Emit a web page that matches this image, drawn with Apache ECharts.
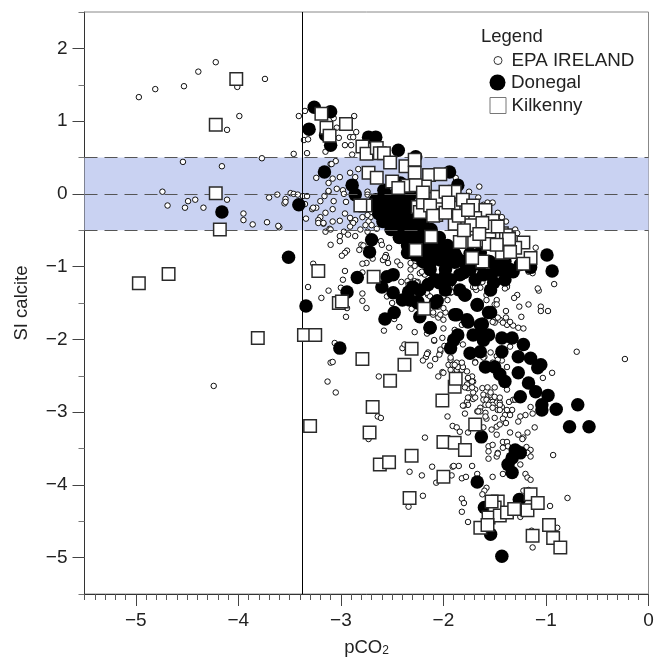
<!DOCTYPE html>
<html><head><meta charset="utf-8">
<script src="https://cdn.jsdelivr.net/npm/echarts@6/dist/echarts.min.js"></script>
<style>html,body{margin:0;padding:0;background:#fff}#c{width:654px;height:657px}</style>
</head><body><div id="c"></div>
<script>
const xTicks=[-5,-4,-3,-2,-1,0];
const yTicks=[2,1,0,-1,-2,-3,-4,-5];
const bandLines=[0.5,0,-0.5];
const refPco2=-3.38;
const epa=[[-4.97,1.33],[-4.81,1.44],[-4.53,1.48],[-4.39,1.68],[-4.22,1.81],[-4.01,1.47],[-3.74,1.58],[-3.99,1.07],[-4.11,0.88],[-4.54,0.44],[-4.16,0.38],[-3.77,0.49],[-3.46,0.55],[-3.41,1.07],[-3.35,1.14],[-3.36,0.74],[-3.32,0.75],[-3.33,0.56],[-3.15,0.58],[-3.24,0.22],[-4.74,0.03],[-4.69,-0.16],[-4.52,-0.19],[-4.49,-0.10],[-4.42,-0.08],[-4.34,-0.19],[-4.11,-0.08],[-3.95,-0.27],[-3.95,-0.36],[-3.86,-0.42],[-3.72,-0.39],[-3.70,-0.05],[-3.62,-0.01],[-3.60,-0.46],[-3.61,-0.44],[-3.54,-0.07],[-3.55,-0.13],[-3.54,-0.11],[-3.49,0.01],[-3.46,0],[-3.42,-0.01],[-3.37,-0.03],[-3.33,-0.03],[-3.35,-0.14],[-3.34,-0.34],[-3.28,-0.21],[-3.24,-0.19],[-3.20,-0.10],[-3.16,-0.03],[-3.12,0.03],[-3.15,-0.26],[-3.20,-0.32],[-3.22,-0.36],[-3.17,-0.41],[-3.15,-0.52],[-3.11,-0.48],[-3.10,-0.70],[-3.12,0.15],[-3.10,0.41],[-3.27,-0.96],[-3.32,-1.28],[-3.19,-1.43],[-3.12,-1.33],[-4.24,-2.64],[-3.13,-2.58],[-3.10,-2.32],
[-3.07,1.04],[-2.87,1.07],[-3.04,0.91],[-2.85,0.85],[-2.91,0.78],[-2.88,0.78],[-3.02,0.77],[-2.96,0.67],[-2.90,0.67],[-2.89,0.54],[-3.05,0.45],[-3.09,0.41],[-3.01,0.23],[-3.08,0.21],[-2.91,0.29],[-2.86,0.23],[-2.83,0.34],[-3.12,0.04],[-2.98,0.05],[-3.04,0.07],[-2.97,0],[-2.95,-0.11],[-3.07,-0.10],[-3.08,-0.21],[-3.27,-0.19],[-2.96,-0.27],[-3.01,-0.37],[-3.08,-0.38],[-2.89,-0.37],[-2.86,-0.36],[-2.74,0.03],[-2.74,-0.01],[-2.70,-0.04],[-2.71,-0.25],[-2.71,-0.32],[-2.74,-0.29],[-2.79,-0.32],[-2.73,-0.38],[-2.91,-0.33],[-2.88,-0.40],
[-3.22,-0.40],[-3.17,-0.40],[-3.10,-0.49],[-2.97,-0.52],[-3.01,-0.58],[-3.01,-0.65],[-2.93,-0.56],[-2.86,-0.58],[-2.91,-0.45],[-2.81,-0.49],[-2.76,-0.43],[-2.70,-0.43],[-2.74,-0.52],[-2.65,-0.48],[-2.80,-0.70],[-2.82,-0.77],[-2.78,-0.71],[-2.61,-0.65],[-2.60,-0.70],[-2.53,-0.74],[-2.94,-0.78],[-2.96,-0.81],[-2.99,-0.85],[-2.56,-0.84],[-2.59,-0.91],[-2.54,-0.95],[-2.55,-0.88],[-2.45,-0.93],[-2.42,-0.98],[-2.69,-0.89],[-2.75,-0.95],[-2.79,-0.96],[-2.96,-1.06],[-2.79,-1.08],[-2.98,-1.18],[-3.00,-1.29],[-2.79,-1.37],[-2.79,-1.47],[-2.75,-1.57],[-2.94,-1.57],[-2.95,-1.69],[-2.58,-1.88],[-2.43,-1.83],[-2.28,-1.90],[-2.16,-1.92],[-3.06,-2.05],[-2.40,-2.12],[-2.38,-2.07],[-2.31,-1.58],[-2.50,-1.50],[-2.48,-1.72],[-2.55,-1.41],[-2.41,-1.21],[-2.35,-1.20],[-2.28,-1.20],[-2.25,-1.21],[-2.16,-1.20],[-2.17,-1.31],[-2.15,-1.39],[-2.28,-0.93],[-2.28,-0.99],[-2.32,-1.04],[-2.23,-1.09],[-2.19,-1.10],[-2.15,-1.04],[-2.42,-0.54],[-2.40,-0.60],[-2.37,-0.63],
[-2.15,-2.18],[-2.17,-2.24],[-2.20,-2.29],[-2.08,-2.27],[-2.03,-2.17],[-2.04,-2.21],[-2.13,-2.36],[-1.99,-2.09],[-1.93,-2.28],[-1.95,-2.35],[-1.91,-2.35],[-1.87,-2.32],[-1.82,-2.35],[-1.93,-2.42],[-1.87,-2.42],[-1.82,-2.42],[-1.77,-2.44],[-2.01,-2.45],[-2.05,-2.51],[-1.72,-2.51],[-1.76,-2.54],[-1.69,-2.31],[-1.54,-2.18],[-1.48,-2.23],[-1.35,-2.10],[-1.43,-2.29],[-1.76,-2.67],[-1.69,-2.69],[-1.62,-2.67],[-1.71,-2.73],[-1.74,-2.80],[-1.71,-2.82],[-1.77,-2.86],[-1.76,-2.90],[-1.80,-2.91],[-1.61,-2.76],[-1.56,-2.77],[-1.53,-2.79],[-1.61,-2.83],[-1.58,-2.83],[-1.54,-2.86],[-1.52,-2.86],[-1.48,-2.87],[-1.45,-2.87],[-1.59,-2.90],[-1.52,-2.90],[-1.43,-2.93],[-1.67,-2.99],[-1.64,-2.94],[-1.79,-3.02],[-1.59,-3.01],[-1.47,-2.97],[-1.36,-2.86],[-1.32,-2.83],[-1.15,-2.93],[-1.13,-3.02],[-1.20,-3.04],[-1.25,-3.06],[-1.27,-3.13],[-1.33,-2.97],[-1.37,-3.01],[-1.40,-3.04],[-1.42,-3.09],[-1.35,-3.04],[-1.39,-3.15],[-1.50,-3.08],[-1.58,-3.09],[-1.96,-3.06],[-1.91,-3.19],[-1.87,-3.21],[-1.84,-3.27],[-1.76,-3.28],[-1.61,-3.21],[-1.48,-3.20],[-1.45,-3.17],[-1.53,-3.24],[-1.48,-3.31],[-1.35,-3.28],[-1.27,-3.31],[-1.18,-3.28],[-1.22,-3.35],[-1.11,-3.21],[-2.18,-3.35],[-1.42,-3.41],[-1.38,-3.41],[-1.37,-3.47],[-1.56,-3.47],[-1.52,-3.45],[-1.56,-3.54],[-1.42,-3.49],[-1.47,-3.56],[-1.56,-3.64],[-1.48,-3.61],[-1.19,-3.48],[-1.15,-3.52],[-1.18,-3.56],[-1.15,-3.61],[-1.25,-3.72],[-1.72,-3.74],[-1.85,-3.74],[-1.91,-3.75],[-2.11,-3.75],[-2.09,-2.02],
[-0.70,-2.17],[-0.23,-2.27],[-0.94,-2.46],[-1.03,-2.53],[-3.08,-2.31],[-3.05,-2.73],[-2.63,-2.51],[-2.64,-3.06],[-2.61,-3.08],[-2.73,-3.37],[-2.33,-3.82],[-2.21,-3.87],[-2.07,-3.97],[-2.20,-4.15],[-2.34,-4.30],[-1.90,-3.74],[-1.92,-3.87],[-1.82,-3.91],[-1.78,-3.89],[-1.67,-3.85],[-1.52,-3.89],[-1.58,-4.04],[-1.60,-4.08],[-1.62,-4.13],[-1.82,-4.19],[-1.80,-4.25],[-1.82,-4.37],[-1.76,-4.51],[-1.42,-3.85],[-1.20,-3.85],[-1.18,-3.90],[-1.15,-3.93],[-1.17,-4.07],[-1.22,-4.08],[-0.79,-4.18],[-0.96,-4.29],[-1.25,-4.44],[-0.89,-4.59],[-1.14,-4.63],[-1.13,-4.86],[-0.93,-3.59],[-1.47,-3.57],[-1.23,-3.37],[-1.30,-2.83],
[-2.09,-2.01],[-2.00,-1.85],[-2.16,-2.20],[-2.00,-2.46],[-1.86,-2.38],[-1.93,-2.25],[-2.03,-2.14],[-1.81,-2.07],[-1.89,-1.87],[-2.01,-1.98],[-1.82,-1.80],[-2.00,-1.73],[-2.10,-1.66],[-2.05,-1.70],[-1.98,-1.63],[-1.96,-1.46],[-1.93,-1.36],[-1.96,-1.32],[-2.16,-1.36],[-2.13,-1.41],[-1.84,-1.28],[-1.66,-1.22],[-1.64,-1.29],[-1.68,-1.32],[-1.58,-1.39],[-1.58,-1.46],[-1.48,-1.46],[-1.50,-1.52],[-1.39,-1.61],[-1.28,-1.39],[-1.31,-1.43],[-1.26,-1.55],[-1.17,-1.52],[-1.24,-1.69],[-1.07,-1.33],[-1.05,-1.55],[-1.05,-1.61],[-0.98,-1.61],[-0.92,-1.24],[-1.45,-1.73],[-1.50,-1.77],[-1.38,-1.80],[-1.32,-1.81],[-1.27,-1.84],[-1.22,-1.85],[-1.35,-1.76],[-1.39,-1.70],[-1.60,-2.24],[-1.47,-2.28],[-1.52,-2.32],[-1.38,-2.38],[-1.69,-2.32],[-1.71,-2.58],[-1.50,-2.66],[-1.38,-2.69],[-1.64,-2.99],[-1.54,-2.76],[-1.45,-2.90],
[-1.65,0.10],[-1.88,0.22],[-1.75,0.03],[-1.66,-0.05],[-1.57,-0.12],[-1.52,-0.12],[-1.47,-0.26],[-1.43,-0.32],[-1.39,-0.38],[-1.30,-0.49],[-1.32,-0.56],[-1.28,-0.54],[-1.10,-0.74],[-1.13,-1.09],[-1.17,-1.07],[-1.38,-1.26],[-1.08,-1.30],[-1.96,-0.87],[-1.92,-0.76],[-2.01,-0.73],[-1.95,-0.95],[-1.87,-0.98],[-1.81,-1.14],[-2.18,-1.11],[-2.13,-1.18],[-1.71,-1.28],[-1.58,-0.99],[-1.74,-0.81],[-1.61,-0.15],[-2.57,-0.87],[-2.32,-0.95],[-2.21,-1.07],[-2.32,-1.14],[-2.34,-1.25],[-2.26,-1.22],[-2.00,-1.57],[-1.87,-1.36],[-2.03,-1.66],[-2.10,-1.63],[-2.05,-1.55],
[-1.92,-1.35],[-1.89,-1.29],[-2.00,-1.41],[-2.01,-1.36],[-1.69,-1.28],[-1.62,-1.21],[-1.38,-1.28],[-1.40,-1.30],[-1.48,-1.52],[-1.56,-1.36],[-1.47,-1.70],[-1.42,-1.77],[-1.52,-1.76],[-1.61,-2.25],[-1.81,-2.38],[-1.89,-2.35],[-1.82,-2.32],[-1.76,-2.53],[-1.72,-2.58],[-1.77,-2.62],[-1.72,-2.66],[-1.79,-2.66],[-1.76,-2.80],[-1.69,-2.80],[-1.81,-2.91],[-1.57,-2.66],[-1.54,-2.73],[-1.50,-2.79],[-1.45,-2.80],[-1.56,-2.90],[-1.52,-2.94],[-1.45,-2.97],[-1.38,-2.97],[-1.59,-3.06],[-1.66,-2.99]];
const donegal=[[-4.16,-0.25],[-3.51,-0.87],[-3.34,-1.54],[-3.41,-0.15],[-3.26,1.19],[-3.10,1.13],[-3.31,0.89],[-3.15,0.81],[-3.10,0.67],[-3.16,0.30],[-2.89,0.12],[-2.86,-0.01],[-2.73,0.78],[-2.66,0.78],[-2.44,0.60],[-2.27,0.51],[-1.94,0.30],[-1.86,0.12],[-2.70,-0.63],[-2.72,-0.80],[-2.84,-1.15],[-2.94,-1.35],[-0.99,-0.84],[-0.94,-1.06],[-2.49,-1.11],[-2.55,-1.14],[-2.60,-1.28],[-2.49,-1.36],[-2.40,-1.46],[-2.34,-1.35],[-2.30,-1.28],[-2.25,-1.48],[-2.06,-1.47],[-2.48,-1.63],[-2.57,-1.72],[-2.23,-1.69],[-2.13,-1.84],[-1.87,-1.66],[-1.79,-1.39],[-1.67,-1.52],[-1.54,-1.63],[-1.77,-1.73],[-1.64,-1.80],
[-2.66,-0.08],[-2.56,-0.15],[-2.47,-0.01],[-2.37,-0.08],[-2.61,-0.29],[-2.52,-0.36],[-2.42,-0.29],[-2.32,-0.22],[-2.27,-0.43],[-2.47,-0.49],[-2.37,-0.56],[-2.23,-0.56],[-2.18,-0.70],[-2.08,-0.77],[-2.03,-0.91],[-2.27,-0.84],[-2.18,-0.94],[-2.13,-1.04],[-1.98,-1.04],[-1.93,-1.18],[-1.89,-0.94],[-1.84,-1.11],[-1.74,-1.04],[-1.64,-0.97],[-1.54,-1.11],[-1.45,-0.97],[-1.35,-1.04],[-1.25,-0.97],[-1.15,-1.01],[-2.08,-1.18],[-2.15,-1.25],[-2.23,-1.32],[-1.98,-1.32],[-1.84,-1.32],[-1.69,-1.18],[-1.54,-1.32],[-1.40,-1.18],[-2.58,0.05],[-2.42,0.15],[-2.32,-0.01],
[-1.42,-1.04],[-1.32,-1.07],[-1.51,-1.22],[-1.61,-1.11],[-1.80,-1.08],[-1.99,-1.14],[-2.04,-1.22],[-2.13,-0.95],[-1.87,-0.87],[-1.64,-0.81],[-2.35,-0.81],[-2.23,-0.63],[-2.06,-0.74],[-2.00,-1.22],[-2.33,-1.46],[-2.25,-1.50],[-2.08,-1.50],[-1.89,-1.66],[-1.76,-1.76],[-1.62,-1.79],[-1.71,-1.94],[-1.62,-1.92],[-1.56,-1.94],[-1.61,-2.01],[-1.74,-2.19],[-1.90,-2.01],[-1.86,-1.94],[-1.93,-2.12],[-2.13,-1.84],[-1.56,-1.63],[-1.67,-1.53],[-1.79,-1.39],[-1.48,-1.05],
[-1.43,-1.98],[-1.33,-1.98],[-1.22,-2.07],[-1.43,-2.17],[-1.27,-2.24],[-1.15,-2.26],[-1.05,-2.35],[-1.08,-2.39],[-1.59,-2.38],[-1.50,-2.38],[-1.45,-2.48],[-1.40,-2.58],[-1.27,-2.46],[-1.17,-2.60],[-1.10,-2.72],[-1.25,-2.79],[-0.98,-2.77],[-1.04,-2.90],[-1.04,-2.97],[-0.90,-2.96],[-0.77,-3.20],[-0.58,-3.20],[-0.69,-2.90],[-3.01,-2.12],[-1.63,-3.34],[-1.30,-3.52],[-1.25,-3.56],[-1.33,-3.63],[-1.37,-3.72],[-1.33,-3.83],[-1.67,-3.96],[-1.26,-4.20],[-1.60,-4.31],[-1.54,-4.68],[-1.43,-4.98],[-1.64,-2.17],
[-2.59,-0.05],[-2.51,-0.05],[-2.43,-0.05],[-2.35,-0.05],[-2.67,-0.16],[-2.59,-0.16],[-2.51,-0.16],[-2.43,-0.16],[-2.35,-0.16],[-2.63,-0.27],[-2.55,-0.27],[-2.47,-0.27],[-2.35,-0.27],[-2.28,-0.27],[-2.59,-0.38],[-2.51,-0.38],[-2.43,-0.38],[-2.35,-0.38],[-2.28,-0.38],[-2.20,-0.38],[-2.51,-0.49],[-2.43,-0.49],[-2.35,-0.49],[-2.20,-0.49],[-2.12,-0.49],[-2.43,-0.60],[-2.35,-0.60],[-2.28,-0.60],[-2.12,-0.60],[-2.04,-0.60],[-2.35,-0.71],[-2.28,-0.71],[-2.12,-0.71],[-2.04,-0.71],[-1.96,-0.71],[-2.28,-0.82],[-2.20,-0.82],[-2.12,-0.82],[-2.04,-0.82],[-1.96,-0.82],[-1.89,-0.82],[-1.74,-0.82],[-2.20,-0.93],[-2.12,-0.93],[-1.96,-0.93],[-1.80,-0.93],[-1.72,-0.93],[-1.55,-0.93],[-1.40,-0.93]];
const kilkenny=[[-4.02,1.58],[-4.22,0.95],[-4.22,0.01],[-4.18,-0.49],[-4.97,-1.23],[-4.68,-1.10],[-3.81,-1.98],[-3.36,-1.94],[-3.25,-1.94],[-3.30,-3.19],[-3.22,-1.06],[-3.19,1.10],[-3.14,0.91],[-3.11,0.80],[-2.95,0.96],[-2.79,0.65],[-2.75,0.55],[-2.65,0.63],[-2.62,0.56],[-2.58,0.56],[-2.52,0.43],[-2.37,0.38],[-2.28,0.47],[-2.28,0.29],[-2.73,0.29],[-2.65,0.22],[-2.50,0.17],[-2.35,0.11],[-2.14,0.26],[-2.03,0.27],[-2.18,0.10],[-1.95,-0.01],[-1.89,0.03],[-2.12,-0.07],[-2.01,-0.15],[-1.90,-0.19],[-1.81,-0.08],[-1.71,-0.16],[-1.59,-0.22],[-1.52,-0.37],[-1.79,-0.36],[-1.69,-0.33],[-1.73,-0.43],[-1.89,-0.41],[-2.07,-0.29],[-2.16,-0.22],[-2.25,-0.18],[-2.23,-0.25],[-2.76,-0.16],[-2.81,-0.16],[-1.54,-0.45],[-1.43,-0.54],[-1.84,-0.66],[-1.70,-0.65],[-1.56,-0.69],[-1.22,-0.67],[-1.30,-0.74],[-1.43,-0.81],[-1.15,-0.88],[-1.22,-0.96],[-1.62,-0.93],[-1.72,-0.88],[-2.12,-0.59],[-2.27,-0.77],[-2.68,-1.14],[-3.02,-1.50],[-2.99,-1.48],[-2.19,-1.58],[-2.79,-2.27],[-2.52,-2.57],[-2.38,-2.35],[-2.31,-2.13],[-2.69,-2.93],[-2.72,-3.28],[-2.62,-3.72],[-2.53,-3.69],[-2.31,-3.60],[-2.33,-4.18],[-2.00,-3.41],[-1.89,-3.42],[-1.79,-3.52],[-2.00,-3.89],[-2.01,-2.84],[-1.89,-2.65],[-1.88,-2.54],[-1.69,-3.17],[-1.47,-4.23],[-1.50,-4.31],[-1.56,-4.45],[-1.45,-4.42],[-1.38,-4.38],[-1.31,-4.33],[-1.18,-4.35],[-1.15,-4.13],[-1.08,-4.25],[-1.64,-4.59],[-1.57,-4.55],[-0.97,-4.55],[-1.13,-4.70],[-0.93,-4.73],[-0.86,-4.86],[-1.53,-4.23],[-1.39,-0.57],[-2.20,-0.12],[-2.06,-0.04],[-1.98,0.03],[-2.44,0.08],[-2.27,0.12],[-2.20,0.02],[-2.13,-0.16],[-2.10,-0.30],[-1.98,-0.26],[-1.85,-0.30],[-1.95,-0.12],[-1.76,-0.22],[-1.62,-0.40],[-1.47,-0.45],[-1.80,-0.50],[-1.65,-0.55],[-1.36,-0.62],[-1.48,-0.70],[-1.35,-0.80]];

const fmt=v=>String(v).replace('-','\u2212');
const F='"Liberation Sans", Arial, sans-serif';
const legendText=p=>({color:'#222',fontSize:18.8,fontFamily:F,padding:[0,0,0,p]});
const chart=echarts.init(document.getElementById('c'),null,{renderer:'canvas'});
chart.setOption({
 animation:false,
 grid:{left:84.5,right:5.5,top:12,bottom:63,show:true,borderColor:'#888',borderWidth:1,backgroundColor:'transparent',outerBoundsMode:'none',containLabel:false},
 xAxis:[
  {type:'value',min:-5.5,max:0,interval:0.1,position:'bottom',splitLine:{show:false},
   axisLine:{show:true,onZero:false,lineStyle:{color:'#333'}},
   axisTick:{length:6,lineStyle:{color:'#555'}},axisLabel:{show:false},
   name:'{a|pCO}{b|2}',nameLocation:'middle',nameGap:44,
   nameTextStyle:{rich:{a:{fontSize:18.5,fontFamily:F,color:'#222'},b:{fontSize:12,fontFamily:F,color:'#222',padding:[7,0,0,0]}}}},
  {type:'value',min:-5.5,max:0,position:'bottom',splitLine:{show:false},
   axisLine:{show:false,onZero:false},
   axisTick:{show:true,length:12,customValues:xTicks,lineStyle:{color:'#444'}},
   axisLabel:{customValues:xTicks,formatter:fmt,fontSize:19,fontFamily:F,color:'#222',margin:17,showMinLabel:true,showMaxLabel:true}}
 ],
 yAxis:[
  {type:'value',min:-5.5,max:2.5,interval:0.5,position:'left',splitLine:{show:false},
   axisLine:{show:true,onZero:false,lineStyle:{color:'#333'}},
   axisTick:{length:6,lineStyle:{color:'#777'}},axisLabel:{show:false},
   name:'SI calcite',nameLocation:'middle',nameGap:53,nameTextStyle:{fontSize:18.5,fontFamily:F,color:'#222'}},
  {type:'value',min:-5.5,max:2.5,position:'left',splitLine:{show:false},
   axisLine:{show:false,onZero:false},
   axisTick:{show:true,length:12,customValues:yTicks,lineStyle:{color:'#444'}},
   axisLabel:{customValues:yTicks,formatter:fmt,fontSize:19,fontFamily:F,color:'#222',margin:17}}
 ],
 legend:[
  {data:['EPA IRELAND'],left:488.5,top:46,orient:'vertical',itemWidth:8,itemHeight:8,textStyle:legendText(4.5),
   itemStyle:{color:'#fff',borderColor:'#333',borderWidth:1},selectedMode:false},
  {data:['Donegal'],left:484.5,top:68,orient:'vertical',itemWidth:16,itemHeight:16,textStyle:legendText(0.5),selectedMode:false},
  {data:['Kilkenny'],left:484.5,top:91,orient:'vertical',itemWidth:16,itemHeight:16,textStyle:legendText(0.5),
   itemStyle:{color:'#fff',borderColor:'#777',borderWidth:1},selectedMode:false}
 ],
 graphic:[{type:'text',left:481,top:27,style:{text:'Legend',fontSize:18.5,fontFamily:F,fill:'#222'},silent:true}],
 series:[
  {name:'EPA IRELAND',type:'scatter',data:epa,symbol:'circle',symbolSize:5.5,
   itemStyle:{color:'#fff',borderColor:'#111',borderWidth:1,opacity:1},z:3,silent:true,
   markArea:{silent:true,itemStyle:{color:'#c9d2f2',opacity:1},label:{show:false},
     data:[[{yAxis:bandLines[2]},{yAxis:bandLines[0]}]]},
   markLine:{silent:true,symbol:'none',label:{show:false},
     lineStyle:{type:[13,7],color:'#555',width:1},
     data:bandLines.map(v=>({yAxis:v}))}},
  {name:'Donegal',type:'scatter',data:donegal,symbol:'circle',symbolSize:13.5,
   itemStyle:{color:'#000',opacity:1},z:4,silent:true},
  {name:'Kilkenny',type:'scatter',data:kilkenny,symbol:'rect',symbolSize:12.5,
   itemStyle:{color:'#fff',borderColor:'#2a2a2a',borderWidth:1.5,opacity:1},z:5,silent:true,
   markLine:{silent:true,symbol:'none',label:{show:false},
     lineStyle:{type:'solid',color:'#000',width:1},data:[{xAxis:refPco2}]}}
 ]
});
</script></body></html>
